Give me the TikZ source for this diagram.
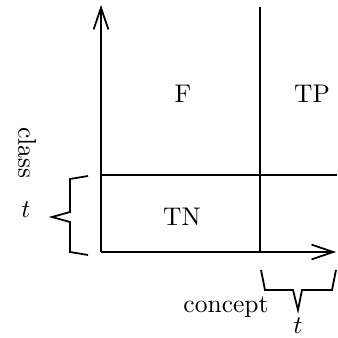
\documentclass[tikz,border=0pt]{standalone}
\usetikzlibrary{arrows.meta}
\begin{document}
\begin{tikzpicture}[x=0.392pt,y=-0.392pt,
  ln/.style={line width=0.7pt},
  axis/.style={ln,-{Straight Barb[length=8.5pt,width=5.8pt,line width=0.7pt]}},
  lbl/.style={inner sep=0pt,font=\normalsize}]
\useasboundingbox (0,0) rectangle (338,337);
\coordinate (O) at (101,252);
\coordinate (Ytop) at (101,5);
\coordinate (Xend) at (336,252);
\coordinate (Vtop) at (260,7);
\coordinate (Vbot) at (260,252);
\coordinate (Hl) at (101,175);
\coordinate (Hr) at (337,175);
\draw[axis] (O) -- (Ytop);
\draw[axis] (O) -- (Xend);
\draw[ln] (Vtop) -- (Vbot);
\draw[ln] (Hl) -- (Hr);
% left brace
\draw[ln,line join=miter] (88,176) -- (70,179) -- (70,212) -- (52,217) -- (70,222) -- (70,252) -- (88,255);
% bottom brace
\draw[ln,line join=miter] (261,270) -- (265,290) -- (293,290) -- (298,310) -- (302,290) -- (332,290) -- (336,270);
\node[lbl] (F) at (183,94) {F};
\node[lbl] (TP) at (312,94) {TP};
\node[lbl] (TN) at (182,217) {TN};
\node[lbl,rotate=-90] (class) at (27,153) {class};
\node[lbl] (tl) at (26,210) {$t$};
\node[lbl] (concept) at (226,307) {concept};
\node[lbl] (tb) at (298,326) {$t$};
\end{tikzpicture}
\end{document}
